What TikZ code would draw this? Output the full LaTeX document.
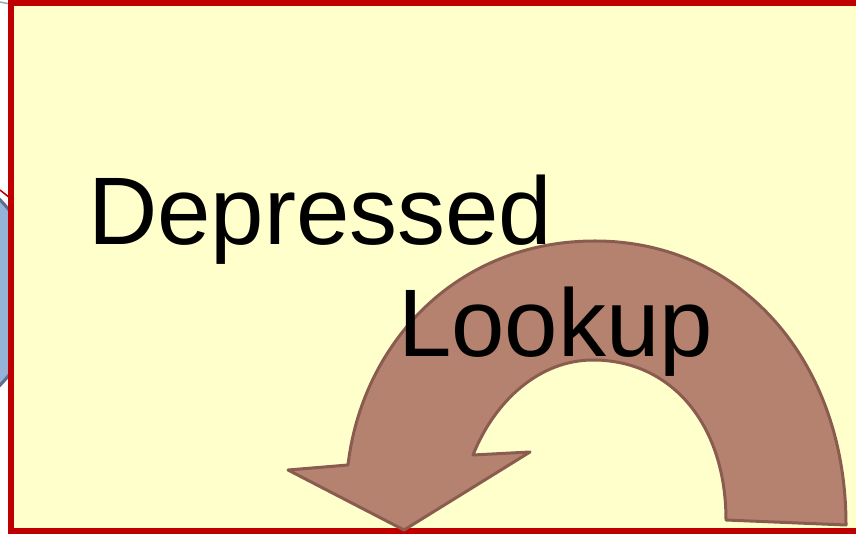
\documentclass[tikz,border=0pt]{standalone}
\usepackage{fontspec}
\setmainfont{Liberation Sans}
\definecolor{paper}{HTML}{FFFFCC}
\definecolor{framered}{HTML}{C00000}
\definecolor{arrowfill}{HTML}{B5826F}
\definecolor{arrowline}{HTML}{8A5C50}
\definecolor{blueshape}{HTML}{95B3D7}
\definecolor{blueline}{HTML}{5F6E8C}
\begin{document}
\begin{tikzpicture}[x=1pt,y=1pt,
  bigtext/.style={anchor=base west,inner sep=0pt,font=\fontsize{96}{100}\selectfont},
  arrowshape/.style={fill=arrowfill,draw=arrowline,line width=3pt,line join=round}]
\useasboundingbox (0,0) rectangle (856,535);
\clip (0,0) rectangle (856,535);
\fill[white] (0,0) rectangle (856,535);
% background shapes peeking out
\draw[fill=blueshape,draw=blueline,line width=3pt] (-94,242.5) circle[radius=132];
\draw[framered,line width=1.5pt] (0,345) -- (10,337);
\draw[blueline!60,line width=1.5pt] (0,533) -- (10,531);
\fill[blueshape!70] (820,542) ellipse[x radius=16,y radius=9];
% frame
\draw[fill=paper,draw=framered,line width=6pt] (11,4) rectangle (880,531.5);
% curved arrow
\coordinate (ob) at (846,10);
\coordinate (ot) at (595,294);
\coordinate (oj) at (348,70);
\coordinate (wl) at (288,65);
\coordinate (tip) at (404,5);
\coordinate (wr) at (530,83);
\coordinate (ij) at (473,80);
\coordinate (it) at (593,175);
\coordinate (ib) at (726,15);
\path[arrowshape] (ob) .. controls (846,175) and (740,294) .. (ot)
  .. controls (455,294) and (362,190) .. (oj)
  -- (wl) -- (tip) -- (wr) -- (ij)
  .. controls (495,135) and (540,175) .. (it)
  .. controls (672,175) and (726,110) .. (ib) -- cycle;
% texts
\node[bigtext] (dep) at (88,290) {Depressed};
\node[bigtext] (look) at (398,178) {Lookup};
\end{tikzpicture}
\end{document}
